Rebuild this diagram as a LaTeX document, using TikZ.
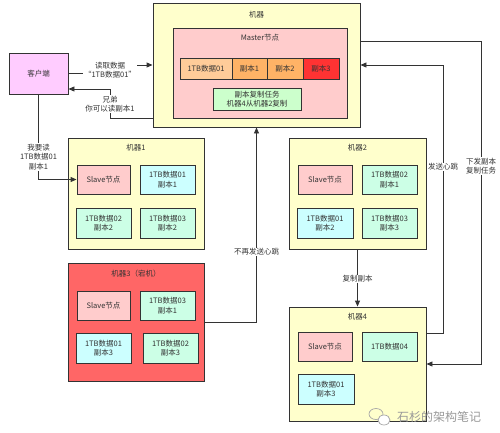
\documentclass[tikz,border=0pt]{standalone}
\usepackage{fontspec}
\setmainfont{Noto Sans CJK SC}
\usetikzlibrary{arrows.meta}
\definecolor{ink}{HTML}{333333}
\definecolor{yel}{HTML}{FFFFCC}
\definecolor{pinkf}{HTML}{FFCCCC}
\definecolor{orl}{HTML}{FFCC99}
\definecolor{orm}{HTML}{FFB366}
\definecolor{redf}{HTML}{FF3333}
\definecolor{cli}{HTML}{FFCCFF}
\definecolor{taskg}{HTML}{CCFFCC}
\definecolor{cyanf}{HTML}{CCFFFF}
\definecolor{greenf}{HTML}{CCFFE6}
\definecolor{downf}{HTML}{FF6666}
\tikzset{
  box/.style={draw=ink, line width=0.9pt, inner sep=0pt, align=center, font=\fontsize{7.5}{9.5}\selectfont, text=ink},
  ttl/.style={font=\fontsize{7.5}{9.5}\selectfont, text=ink, inner sep=1pt},
  lbl/.style={fill=white, font=\fontsize{7.5}{9.5}\selectfont, text=ink, align=center, inner sep=1pt},
  arr/.style={draw=ink, line width=0.9pt, -{Triangle[length=6pt,width=5pt]}},
}
\begin{document}
\begin{tikzpicture}[x=1pt,y=-1pt]
\useasboundingbox (0,0) rectangle (500,432);
% main machine
\node[box, fill=yel, minimum width=207pt, minimum height=124pt] (main) at (256.5,65) {};
\node[ttl] (maint) at (256.5,15) {机器};
\node[box, fill=pinkf, minimum width=174pt, minimum height=90pt] (master) at (260,73) {};
\node[ttl] (mastert) at (260,38) {Master节点};
\node[box, fill=orl, minimum width=52pt, minimum height=21pt] (md01) at (206,68.5) {1TB数据01};
\node[box, fill=orm, minimum width=35pt, minimum height=21pt] (mr1) at (249.5,68.5) {副本1};
\node[box, fill=orm, minimum width=36pt, minimum height=21pt] (mr2) at (285,68.5) {副本2};
\node[box, fill=redf, minimum width=36pt, minimum height=21pt] (mr3) at (321,68.5) {副本3};
\node[box, fill=taskg, minimum width=88pt, minimum height=22pt] (task) at (257,99) {副本复制任务\\机器4从机器2复制};
% client
\node[box, fill=cli, minimum width=59pt, minimum height=41pt] (client) at (38.5,73.5) {客户端};
% machine 1
\node[box, fill=yel, minimum width=136pt, minimum height=111pt] (m1) at (136,193.5) {};
\node[ttl] (m1t) at (136,148) {机器1};
\node[box, fill=pinkf, minimum width=53pt, minimum height=29pt] (m1s) at (103.5,179.5) {Slave节点};
\node[box, fill=cyanf, minimum width=55pt, minimum height=29pt] (m1a) at (167.5,179.5) {1TB数据01\\副本1};
\node[box, fill=greenf, minimum width=55pt, minimum height=30pt] (m1b) at (103.5,223) {1TB数据02\\副本2};
\node[box, fill=greenf, minimum width=55pt, minimum height=30pt] (m1c) at (167.5,223) {1TB数据03\\副本2};
% machine 2
\node[box, fill=yel, minimum width=137pt, minimum height=111pt] (m2) at (357.5,193.5) {};
\node[ttl] (m2t) at (357.5,148) {机器2};
\node[box, fill=pinkf, minimum width=54pt, minimum height=29pt] (m2s) at (325,179.5) {Slave节点};
\node[box, fill=greenf, minimum width=55pt, minimum height=29pt] (m2a) at (389.5,179.5) {1TB数据02\\副本1};
\node[box, fill=cyanf, minimum width=56pt, minimum height=30pt] (m2b) at (325,223) {1TB数据01\\副本2};
\node[box, fill=greenf, minimum width=55pt, minimum height=30pt] (m2c) at (389.5,223) {1TB数据03\\副本3};
% machine 3
\node[box, fill=downf, minimum width=136pt, minimum height=118pt] (m3) at (136,322) {};
\node[ttl] (m3t) at (136,274) {机器3（宕机）};
\node[box, fill=pinkf, minimum width=53pt, minimum height=29pt] (m3s) at (103.5,305.5) {Slave节点};
\node[box, fill=greenf, minimum width=55pt, minimum height=29pt] (m3a) at (167.5,305.5) {1TB数据03\\副本1};
\node[box, fill=cyanf, minimum width=55pt, minimum height=30pt] (m3b) at (103.5,348) {1TB数据01\\副本3};
\node[box, fill=greenf, minimum width=55pt, minimum height=30pt] (m3c) at (170.5,348) {1TB数据02\\副本3};
% machine 4
\node[box, fill=yel, minimum width=137pt, minimum height=114pt] (m4) at (357.5,364) {};
\node[ttl] (m4t) at (357.5,317) {机器4};
\node[box, fill=pinkf, minimum width=54pt, minimum height=29pt] (m4s) at (325,346.5) {Slave节点};
\node[box, fill=greenf, minimum width=55pt, minimum height=29pt] (m4a) at (389.5,346.5) {1TB数据04};
\node[box, fill=cyanf, minimum width=56pt, minimum height=30pt] (m4b) at (326,389) {1TB数据01\\副本3};
% connectors
\draw[arr] (client.east) -- (110,73.5) -- (110,65) -- (main.west);
\node[lbl] (l1) at (110,70) {读取数据\\“1TB数据01”};
\draw[arr] ([yshift=9pt]main.south west) -| (110,89) -- ([yshift=-15.5pt]client.east);
\node[lbl] (l2) at (110,104) {兄弟\\你可以读副本1};
\draw[arr] (client.south) |- (m1s.west);
\node[lbl] (l3) at (38.5,157) {我要读\\1TB数据01\\副本1};
\draw[arr] (m3.east) -| (main.south);
\node[lbl] (l4) at (256.5,252) {不再发送心跳};
\draw[arr] (m2.south) -- (m4.north);
\node[lbl] (l5) at (357.5,279) {复制副本};
\draw[arr] ([yshift=31pt]m4.east) -| (443,65) -- (main.east);
\node[lbl] (l6) at (443,167) {发送心跳};
\draw[arr] ([yshift=24pt]main.east) -| (481,364) -- (m4.east);
\node[lbl] (l7) at (481,166) {下发副本\\复制任务};
% watermark
\draw[gray!70, line width=0.7pt] (376,414) ellipse (7pt and 5.5pt);
\draw[gray!70, line width=0.7pt, fill=white] (384,420) ellipse (6pt and 5pt);
\node[text=gray!80, font=\fontsize{12}{14}\selectfont, inner sep=0pt] (wm) at (439,417) {石杉的架构笔记};
\end{tikzpicture}
\end{document}
